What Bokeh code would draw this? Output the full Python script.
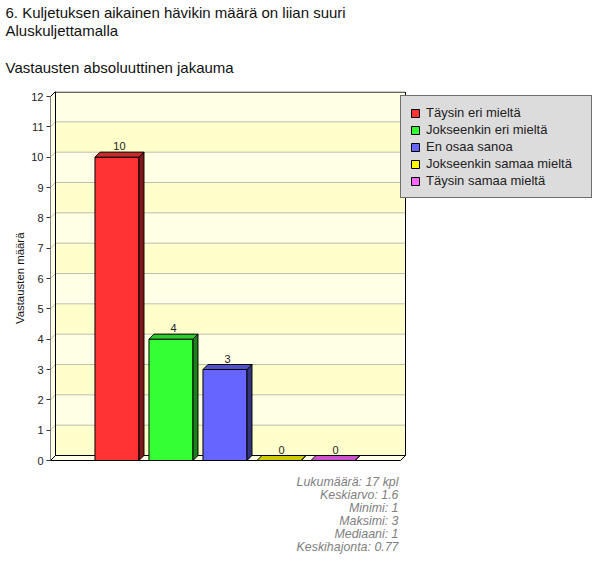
from bokeh.plotting import figure
from bokeh.models import Range1d, FixedTicker, Label, Legend, LegendItem, ColumnDataSource, Title
from bokeh.embed import file_html
from bokeh.resources import INLINE
from bokeh.core.properties import value

# ---------------- data ----------------
categories = ["Täysin eri mieltä", "Jokseenkin eri mieltä", "En osaa sanoa",
              "Jokseenkin samaa mieltä", "Täysin samaa mieltä"]
counts = [10, 4, 3, 0, 0]
y_ticks = list(range(0, 13))
title_lines = ["6. Kuljetuksen aikainen hävikin määrä on liian suuri",
               "Aluskuljettamalla"]
subtitle = "Vastausten absoluuttinen jakauma"
y_label = "Vastausten määrä"
stats_lines = ["Lukumäärä: 17 kpl", "Keskiarvo: 1.6", "Minimi: 1",
               "Maksimi: 3", "Mediaani: 1", "Keskihajonta: 0.77"]

# ---------------- style ----------------
front_colors = ["#FF3333", "#33FF33", "#6666FF", "#FFFF00", "#FF66FF"]
top_colors = ["#CC2929", "#29CC29", "#5252CC", "#CCCC00", "#CC52CC"]
side_colors = ["#801A1A", "#1A801A", "#333380", "#808000", "#803380"]
FONT = "Liberation Sans"

W_FIG, H_FIG = 592, 555
LEFT, TOP = 50, 91
PXX = 54.0          # px per category
PXY = 364.0 / 12.0  # px per unit on y
XS = -1.231         # x value at frame left
XE = XS + (W_FIG - LEFT) / PXX
DX = 5.0 / PXX      # depth offset in data units
DY = 5.0 / PXY
YMAX = 12 + DY
YMIN = (460 - H_FIG) / PXY
W = 44.0 / PXX      # bar width


def px(xp):
    return XS + (xp - LEFT) / PXX


def py(yp):
    return (460 - yp) / PXY


XW = px(405)  # right end of the back wall

p = figure(width=W_FIG, height=H_FIG, output_backend="svg", toolbar_location=None,
           x_range=Range1d(XS, XE), y_range=Range1d(YMIN, YMAX),
           x_axis_location=None, min_border_left=LEFT, min_border_right=0,
           min_border_top=TOP, min_border_bottom=0)
p.grid.visible = False
p.outline_line_color = None
p.background_fill_color = "white"
p.border_fill_color = "white"

# back wall bands
nb = len(y_ticks) - 1
band_bottom = [y_ticks[k] + DY for k in range(nb)]
band_top = [y_ticks[k + 1] + DY for k in range(nb)]
band_col = ["#FFFFCC" if k % 2 == 0 else "#FFFFE6" for k in range(nb)]
p.quad(left=XS + DX, right=XW, bottom=band_bottom, top=band_top,
       fill_color=band_col, line_color=None)
gl = y_ticks[1:-1]
p.segment(x0=[XS + DX] * len(gl), x1=[XW] * len(gl), y0=[g + DY for g in gl],
          y1=[g + DY for g in gl], line_color="#BEBEAA", line_width=1)
# left wall
p.patch([XS, XS, XS + DX, XS + DX], [0, 12, 12 + DY, DY],
        fill_color="#FFFFE6", line_color="black", line_width=1)
p.segment(x0=[XS] * len(gl), x1=[XS + DX] * len(gl), y0=gl,
          y1=[g + DY for g in gl], line_color="#BEBEAA", line_width=1)
# floor
p.patch([XS, XW - DX, XW, XS + DX], [0, 0, DY, DY],
        fill_color="#FFFFE6", line_color="black", line_width=1)
# back wall outline
p.line([XS + DX, XS + DX, XW, XW], [DY, YMAX - 0.02, YMAX - 0.02, DY],
       line_color="black", line_width=1)

# bars
xs = list(range(len(counts)))
front = p.quad(left=[x - W / 2 for x in xs], right=[x + W / 2 for x in xs],
               bottom=0, top=counts, fill_color=front_colors, line_color="black")
side_xs = [[x + W / 2, x + W / 2 + DX, x + W / 2 + DX, x + W / 2] for x in xs]
side_ys = [[0, DY, v + DY, v] for v in counts]
p.patches(side_xs, side_ys, fill_color=side_colors, line_color="black")
top_xs = [[x - W / 2, x + W / 2, x + W / 2 + DX, x - W / 2 + DX] for x in xs]
top_ys = [[v, v, v + DY, v + DY] for v in counts]
p.patches(top_xs, top_ys, fill_color=top_colors, line_color="black")

# value labels
src = ColumnDataSource(dict(x=[x + DX / 2 for x in xs], y=[v + DY for v in counts],
                            t=[str(v) for v in counts]))
p.text(x="x", y="y", text="t", source=src, text_align="center",
       text_baseline="bottom", y_offset=-2, text_font=value(FONT),
       text_font_size="11px", text_color="#222222")

# y axis
ax = p.yaxis[0]
ax.ticker = FixedTicker(ticks=y_ticks)
ax.axis_line_color = None
ax.major_tick_out = 4
ax.major_tick_in = 0
ax.minor_tick_line_color = None
ax.major_tick_line_color = "#333333"
ax.major_label_text_font = FONT
ax.major_label_text_font_size = "11px"
ax.major_label_text_color = "#222222"
ax.major_label_standoff = 3

# y axis title placed beside the axis, centred on the 0..12 wall
p.add_layout(Title(text=y_label, align="right", offset=141,
                   text_font=FONT, text_font_size="11.4px", text_font_style="normal",
                   text_color="#111111", standoff=6), "left")

# legend
items = [LegendItem(label=c, renderers=[front], index=i) for i, c in enumerate(categories)]
leg = Legend(items=items, location=(350, H_FIG - 198), orientation="vertical",
             padding=9, spacing=2, glyph_width=10, glyph_height=10,
             label_height=13, label_width=156, label_standoff=6,
             label_text_font=FONT, label_text_font_size="13px",
             label_text_color="#222222",
             border_line_color="black", border_line_width=1,
             background_fill_color="#DCDCDC", background_fill_alpha=1.0,
             margin=0)
p.add_layout(leg)

# titles (nearest to the plot first)
p.add_layout(Title(text=subtitle, align="left", offset=-45,
                   text_font=FONT, text_font_size="15px", text_font_style="normal",
                   text_color="#111111", standoff=32), "above")
p.add_layout(Title(text="\n".join(title_lines), align="left", offset=-45,
                   text_font=FONT, text_font_size="15px", text_font_style="normal",
                   text_color="#111111", text_line_height=1.08, standoff=2), "above")

# stats
for t, yp in zip(stats_lines, [481, 494.5, 507, 520, 533, 546]):
    p.add_layout(Label(x=px(398), y=py(yp), text=t, text_font=FONT,
                       text_font_size="12.4px", text_font_style="italic",
                       text_align="right", text_baseline="middle",
                       text_color="#808080"))

open("out.html", "w").write(file_html(p, INLINE))
